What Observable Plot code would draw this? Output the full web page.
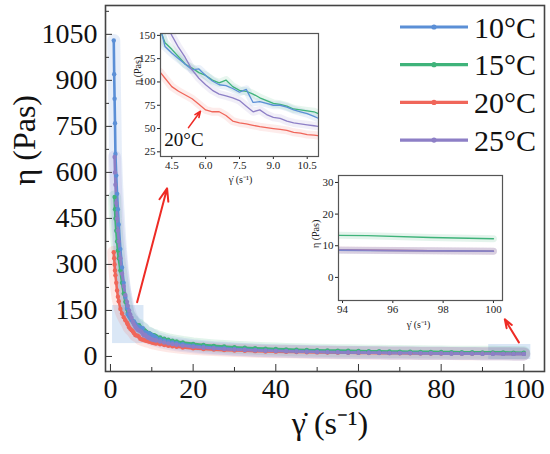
<!DOCTYPE html>
<html><head><meta charset="utf-8">
<script src="https://cdn.jsdelivr.net/npm/d3@7"></script>
<script src="https://cdn.jsdelivr.net/npm/@observablehq/plot@0.6"></script>
<style>
body{margin:0;background:#fff;}
#wrap{position:relative;width:550px;height:454px;overflow:hidden;font-family:'Liberation Serif';}
#wrap svg{position:absolute;}
</style></head><body><div id="wrap"></div>
<script>
// ---------- data ----------
const temps = ["10°C", "15°C", "20°C", "25°C"];
const colors = ["#5b8fd6", "#3fb37a", "#f0665a", "#8d7fc6"];

const rate = [0.8,0.9,1.0,1.1,1.2,1.4,1.6,1.8,2.0,2.4,2.8,3.2,3.6,4.0,
  4.2,4.5,4.8,5.1,5.4,5.7,6.0,6.3,6.6,6.9,7.2,7.5,7.8,8.1,8.4,8.7,9.0,9.3,9.6,9.9,10.2,10.5,10.8,11.1,
  12,13,14,15,16,17.5,20,22.5,25,27.5,30,32.5,35,37.5,40,42.5,45,47.5,50,52.5,55,57.5,60,62.5,65,67.5,70,72.5,75,77.5,80,82.5,85,87.5,90,92.5,95,97.5,100];

const eta10 = [1030,920,840,760,660,590,530,480,430,350,290,240,195,158,
  138,131,125,119,113,114,107,101,97,96,93,89,92,78,79,77,75,75,73,70,68,66,63,60,
  56,52,48.8,45.6,43,39.7,35.3,31.8,28.9,26.7,24.4,22.5,21.2,19.8,18.8,17.9,16.9,16.0,15.4,14.8,14.1,13.5,13.1,12.7,12.2,11.7,11.4,11.2,10.8,10.4,10.2,9.9,9.6,9.3,9.0,8.7,8.5,8.4,8.3];
const eta15 = [null,null,520,480,450,410,375,345,320,280,240,205,178,155,
  142,135,127,119,115,110,107,102,99,102,95,91,90,87,83,80,77,76,74,71,70,69,68,65,
  61.6,57.7,54.3,51.4,49.0,45.6,41.0,37.5,34.6,32.4,30.1,28.2,26.8,25.5,24.2,23.0,22.1,21.3,20.4,19.6,19.0,18.5,17.8,17.2,16.8,16.4,15.9,15.4,15.1,14.9,14.4,14.0,13.8,13.7,13.5,13.4,13.2,12.6,12.2];
const eta20 = [340,320,300,280,265,240,215,195,180,155,140,128,118,110,
  104,95,90,86,82,76,70,68,68,64,58,56,55,53.5,52,51,50,49,48,46,45,43.5,43,42,
  39.6,37.2,35.0,33.2,31.6,29.4,26.5,24.3,22.4,20.7,19.5,18.4,17.3,16.4,15.7,15.1,14.4,13.7,13.3,12.9,12.4,12.0,11.7,11.2,11.0,10.8,10.5,10.1,10.0,9.8,9.6,9.4,9.2,9.0,8.8,8.7,8.6,8.4,8.3];
const eta25 = [null,null,650,600,560,500,450,410,375,320,270,230,200,178,
  165,150,137,126,113,104,97,91,87,85,83,80,74,68,70,65,62,61,58,56,55,54,53,52,
  48.6,45.4,42.6,40.1,38.1,35.3,31.4,28.6,26.1,24.0,22.4,21.1,19.7,18.5,17.6,16.9,16.0,15.2,14.7,14.2,13.6,13.0,12.7,12.4,11.9,11.5,11.3,11.1,10.7,10.3,10.2,9.9,9.6,9.3,9.0,8.8,8.6,8.4,8.3];

// axis ticks
const xMajor = [0,20,40,60,80,100];
const xMinor = [10,30,50,70,90];
const yMajor = [0,150,300,450,600,750,900,1050];
const yMinor = [75,225,375,525,675,825,975,1125];
const in1X = [4.5,6.0,7.5,9.0,10.5];
const in1Y = [25,50,75,100,125,150];
const in2X = [94,96,98,100];
const in2Y = [0,10,20,30];

// annotations (data units)
const hlRects = [{x1:0.5,x2:8.1,y1:42,y2:166},{x1:91.5,x2:101.7,y1:-10,y2:39}];
const mainArrows = [{x1:6.45,y1:177,x2:13.7,y2:548},{x1:98.8,y1:46,x2:95.4,y2:121}];
const in1Arrow = [{x1:5.24,y1:51,x2:5.77,y2:68.5}];
const in1Note = [{x:5.04,y:38,text:"20°C"}];

// ---------- build ----------
const series = {"10°C":eta10,"15°C":eta15,"20°C":eta20,"25°C":eta25};
const drawOrder = ["15°C","20°C","10°C","25°C"];
const rows = [];
for (const T of drawOrder) series[T].forEach((v,i)=>{ if (v!=null) rows.push({rate:rate[i], eta:v, T}); });

const FF = "Liberation Serif";
const color = {domain: temps, range: colors};
const fmt = d => String(d);
const wrap = document.getElementById("wrap");

const main = Plot.plot({
  width:550, height:454, marginLeft:105, marginTop:5, marginRight:6, marginBottom:83,
  x:{domain:[-1.2,105]}, y:{domain:[-49,1144]}, color,
  style:{fontFamily:FF, fontSize:"28px", color:"#111", background:"transparent", overflow:"visible"},
  marks:[
    Plot.rect(hlRects,{x1:"x1",x2:"x2",y1:"y1",y2:"y2",fill:"#d3e3f5",fillOpacity:0.85}),
    Plot.line(rows,{x:"rate",y:"eta",z:"T",stroke:"T",strokeWidth:13,strokeOpacity:0.15,strokeLinecap:"round"}),
    Plot.line(rows,{x:"rate",y:"eta",z:"T",stroke:"T",strokeWidth:2.6}),
    Plot.dot(rows,{x:"rate",y:"eta",fill:"T",r:2.2}),
    Plot.arrow(mainArrows,{x1:"x1",y1:"y1",x2:"x2",y2:"y2",stroke:"#ee2b25",strokeWidth:2,headLength:10,headAngle:40}),
    Plot.axisX({ticks:xMajor,tickSize:-7,tickPadding:14,tickFormat:fmt,label:null,stroke:"#333",fontFamily:FF,fontSize:28}),
    Plot.axisX({ticks:xMinor,tickSize:-4,tickFormat:()=>"",label:null,stroke:"#333"}),
    Plot.axisY({ticks:yMajor,tickSize:-7,tickPadding:15,tickFormat:fmt,label:null,stroke:"#333",fontFamily:FF,fontSize:28}),
    Plot.axisY({ticks:yMinor,tickSize:-4,tickFormat:()=>"",label:null,stroke:"#333"}),
    Plot.frame({stroke:"#444",strokeWidth:1.6}),
    Plot.text(["η (Pas)"],{text:d=>d,frameAnchor:"left",dx:-81,dy:-3,rotate:-90,fontSize:32,fontFamily:FF}),
    Plot.text(["γ̇ (s⁻¹)"],{text:d=>d,frameAnchor:"bottom",dx:5,dy:62,fontSize:32,fontFamily:FF})
  ]
});
main.style.left="0px"; main.style.top="0px";
wrap.appendChild(main);

const ins1 = Plot.plot({
  width:208, height:173, marginLeft:42, marginTop:10, marginRight:8, marginBottom:40,
  x:{domain:[4.0,11.0]}, y:{domain:[20,152]}, color,
  style:{fontFamily:FF, fontSize:"11px", color:"#222", background:"transparent", overflow:"visible"},
  marks:[
    Plot.line(rows,{x:"rate",y:"eta",z:"T",stroke:"T",strokeWidth:8,strokeOpacity:0.12,clip:true}),
    Plot.line(rows,{x:"rate",y:"eta",z:"T",stroke:"T",strokeWidth:1.3,clip:true}),
    Plot.axisX({ticks:in1X,tickSize:3,tickPadding:2,tickFormat:d3.format(".1f"),label:null,fontFamily:FF}),
    Plot.axisY({ticks:in1Y,tickSize:3,tickPadding:2,tickFormat:fmt,label:null,fontFamily:FF}),
    Plot.frame({stroke:"#555",strokeWidth:1.2}),
    Plot.arrow(in1Arrow,{x1:"x1",y1:"y1",x2:"x2",y2:"y2",stroke:"#ee2b25",strokeWidth:1.6,headLength:6,headAngle:45}),
    Plot.text(in1Note,{x:"x",y:"y",text:"text",fontSize:19,fill:"#111",fontFamily:FF}),
    Plot.text(["η (Pas)"],{text:d=>d,frameAnchor:"left",dx:-23,dy:-10,rotate:-90,fontSize:10,fontFamily:FF}),
    Plot.text(["γ̇ (s⁻¹)"],{text:d=>d,frameAnchor:"bottom",dx:1,dy:26,fontSize:10,fontFamily:FF})
  ]
});
ins1.style.left="118px"; ins1.style.top="23px";
wrap.appendChild(ins1);

const ins2 = Plot.plot({
  width:210, height:175, marginLeft:38, marginTop:10, marginRight:8, marginBottom:40,
  x:{domain:[93.84,100.36]}, y:{domain:[-7.3,32.2]}, color,
  style:{fontFamily:FF, fontSize:"11px", color:"#222", background:"transparent", overflow:"visible"},
  marks:[
    Plot.line(rows,{x:"rate",y:"eta",z:"T",stroke:"T",strokeWidth:7,strokeOpacity:0.14,clip:true}),
    Plot.line(rows,{x:"rate",y:"eta",z:"T",stroke:"T",strokeWidth:1.4,clip:true}),
    Plot.axisX({ticks:in2X,tickSize:3,tickPadding:2,tickFormat:fmt,label:null,fontFamily:FF}),
    Plot.axisY({ticks:in2Y,tickSize:3,tickPadding:2,tickFormat:fmt,label:null,fontFamily:FF}),
    Plot.frame({stroke:"#555",strokeWidth:1.2}),
    Plot.text(["η (Pas)"],{text:d=>d,frameAnchor:"left",dx:-23,dy:10,rotate:-90,fontSize:10,fontFamily:FF}),
    Plot.text(["γ̇ (s⁻¹)"],{text:d=>d,frameAnchor:"bottom",dx:-2,dy:27,fontSize:10,fontFamily:FF})
  ]
});
ins2.style.left="300px"; ins2.style.top="165px";
wrap.appendChild(ins2);

// legend (inside main frame, top right)
const leg = d3.select(wrap).append("svg").attr("width",550).attr("height",170).style("left","0px").style("top","0px");
temps.forEach((t,i)=>{
  const y = 27 + i*37.7;
  const g = leg.append("g");
  g.append("line").attr("x1",400).attr("x2",468).attr("y1",y).attr("y2",y).attr("stroke",colors[i]).attr("stroke-width",3.2);
  g.append("circle").attr("cx",434).attr("cy",y).attr("r",2.6).attr("fill",colors[i]);
  g.append("text").attr("x",474).attr("y",y+10.5).attr("font-family",FF).attr("font-size",30).attr("fill","#111").text(t);
});
</script></body></html>
